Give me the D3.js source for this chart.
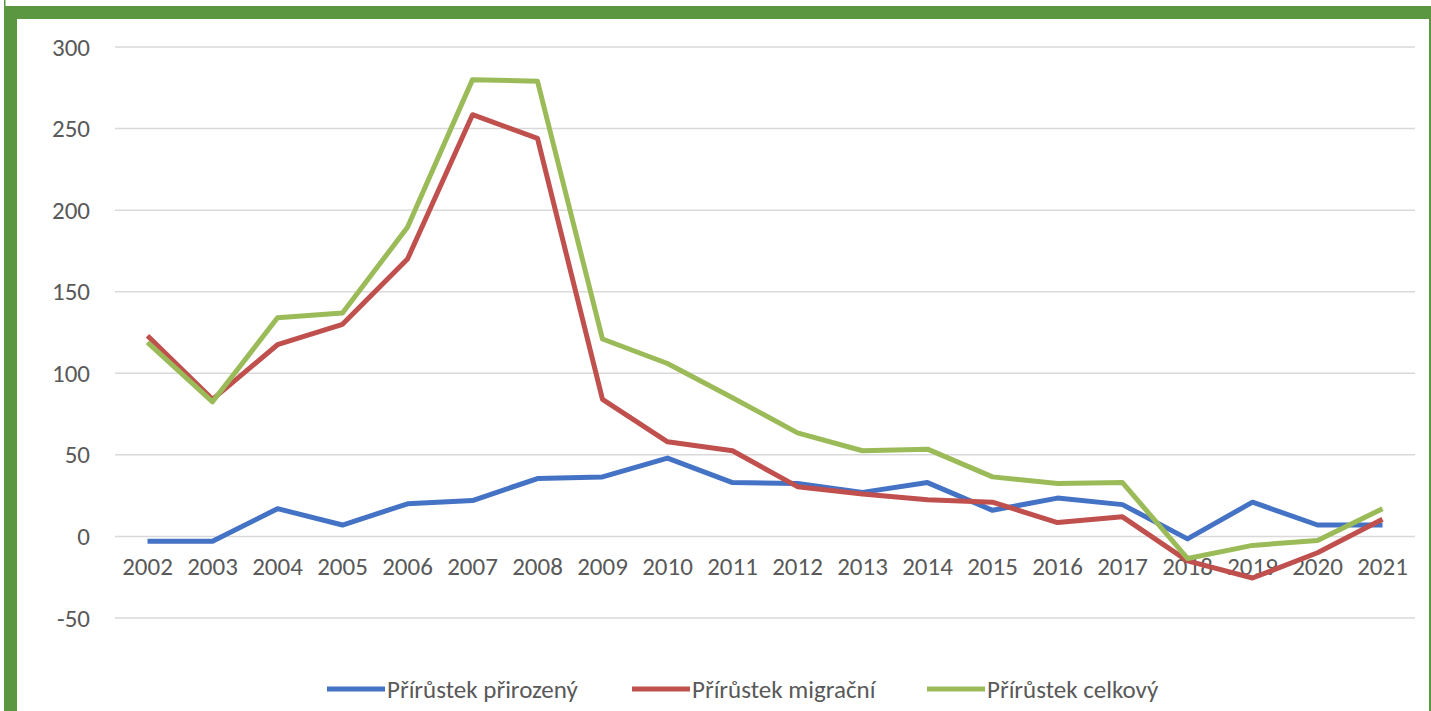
<!DOCTYPE html>
<html>
<head>
<meta charset="utf-8">
<script src="https://cdn.jsdelivr.net/npm/d3@7"></script>
<style>
  body { margin: 0; background: #fff; }
  text { font-family: Carlito, Calibri, "Liberation Sans", sans-serif; fill: #595959; }
</style>
</head>
<body>
<div id="chart"></div>
<script>
// DATA
const years = ['2002','2003','2004','2005','2006','2007','2008','2009','2010','2011',
               '2012','2013','2014','2015','2016','2017','2018','2019','2020','2021'];
const prirozeny = [-3, -3, 17, 7, 20, 22, 35.5, 36.5, 48, 33, 32.5, 27, 33, 16, 23.5, 19.5, -1.5, 21, 7, 7];
const migracni = [123, 84, 117.5, 130, 170, 258.5, 244, 84, 58, 52.5, 30.5, 26, 22.5, 21, 8.5, 12, -15, -25.5, -10, 10.5];
const celkovy = [119, 82.5, 134, 137, 189.5, 280, 279, 121, 106, 85, 63.5, 52.5, 53.5, 36.5, 32.5, 33, -13.5, -5.5, -2.5, 17];
const yTicks = [300, 250, 200, 150, 100, 50, 0, -50];
const seriesNames = ['Přírůstek přirozený', 'Přírůstek migrační', 'Přírůstek celkový'];
const seriesColors = ['#4472C4', '#C0504D', '#9BBB59'];

const W = 1431, H = 711;
const frameColor = '#5B9740';

const svg = d3.select('#chart').append('svg')
    .attr('width', W).attr('height', H);

// FRAME
svg.append('rect').attr('x', 4).attr('y', 6).attr('width', W - 4).attr('height', 13).attr('fill', frameColor);
svg.append('rect').attr('x', 4).attr('y', 6).attr('width', 13).attr('height', H - 6).attr('fill', frameColor);
svg.append('rect').attr('x', 4).attr('y', 0).attr('width', 1.5).attr('height', 6).attr('fill', frameColor);
svg.append('rect').attr('x', W - 2).attr('y', 19).attr('width', 2).attr('height', H - 19).attr('fill', frameColor);

// SCALES
const x = d3.scaleBand().domain(years).range([115, 1415]);
const y = d3.scaleLinear().domain([-50, 300]).range([618, 47]);

// GRID
svg.append('g').selectAll('line')
  .data(yTicks).enter().append('line')
    .attr('x1', 115).attr('x2', 1415)
    .attr('y1', d => y(d)).attr('y2', d => y(d))
    .attr('stroke', '#d9d9d9').attr('stroke-width', 1.5);

// Y AXIS LABELS
const yAxis = d3.axisLeft(y).tickValues(yTicks).tickFormat(d => String(d)).tickSize(0).tickPadding(0);
const gy = svg.append('g').attr('transform', 'translate(90,0)').call(yAxis);
gy.select('.domain').remove();
gy.selectAll('text').attr('font-size', 25).attr('fill', '#595959').attr('font-family', null);

// X AXIS LABELS
const xAxis = d3.axisBottom(x).tickSize(0).tickPadding(0);
const gx = svg.append('g').attr('transform', 'translate(0,557)').call(xAxis);
gx.select('.domain').remove();
gx.selectAll('text').attr('font-size', 25).attr('fill', '#595959').attr('font-family', null);

// LINES
const line = d3.line()
    .x((d, i) => x(years[i]) + x.bandwidth() / 2)
    .y(d => y(d));

[prirozeny, migracni, celkovy].forEach((s, i) => {
  svg.append('path')
    .datum(s)
    .attr('d', line)
    .attr('fill', 'none')
    .attr('stroke', seriesColors[i])
    .attr('stroke-width', 5)
    .attr('stroke-linejoin', 'round');
});

// LEGEND
const legendX = [327, 632, 927];
const lg = svg.append('g');
seriesNames.forEach((name, i) => {
  lg.append('line')
    .attr('x1', legendX[i]).attr('x2', legendX[i] + 58)
    .attr('y1', 689).attr('y2', 689)
    .attr('stroke', seriesColors[i]).attr('stroke-width', 5);
  lg.append('text')
    .attr('x', legendX[i] + 60).attr('y', 698)
    .attr('font-size', 25)
    .text(name);
});
</script>
</body>
</html>
